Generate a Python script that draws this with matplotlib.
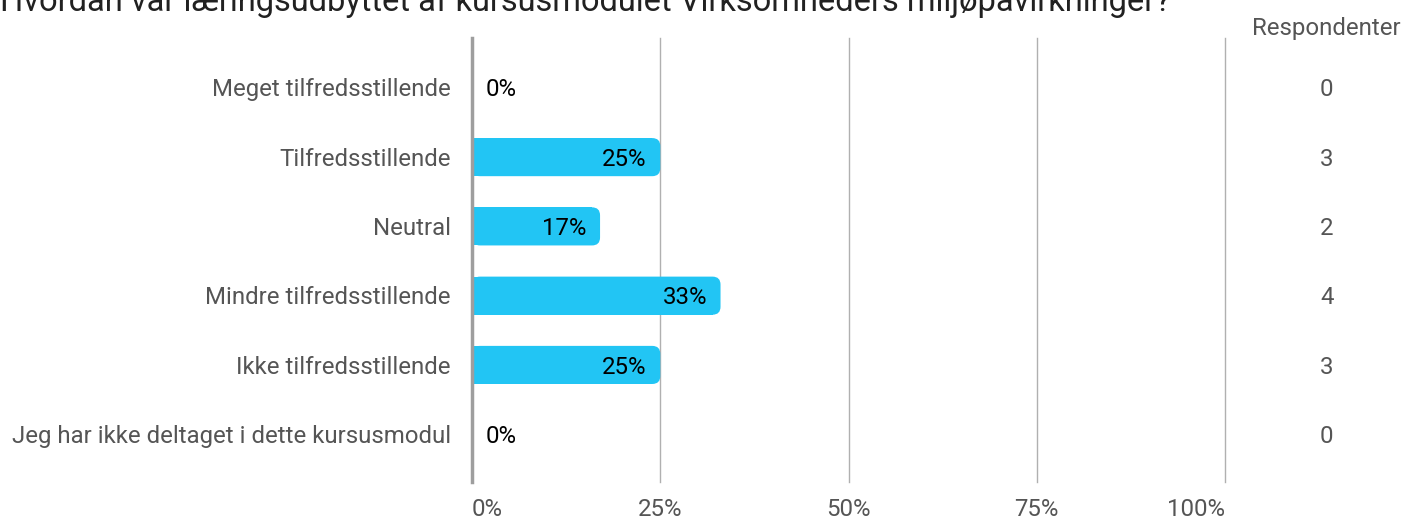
import matplotlib
matplotlib.use("Agg")
import matplotlib.pyplot as plt
from matplotlib.patches import FancyBboxPatch, Rectangle
import matplotlib.transforms as mtransforms

plt.rcParams['font.family'] = ['Roboto', 'DejaVu Sans']

title = "Hvordan var læringsudbyttet af kursusmodulet Virksomheders miljøpåvirkninger?"
categories = ["Meget tilfredsstillende", "Tilfredsstillende", "Neutral",
              "Mindre tilfredsstillende", "Ikke tilfredsstillende",
              "Jeg har ikke deltaget i dette kursusmodul"]
percents = [0, 25, 17, 33, 25, 0]
respondents = [0, 3, 2, 4, 3, 0]
ticks = [0, 25, 50, 75, 100]
tick_labels = ["0%", "25%", "50%", "75%", "100%"]

bar_color = "#22c5f4"
label_gray = "#555555"
fs = 17.3
dy = 0.03  # small nudge so text sits on the bar centre

fig = plt.figure(figsize=(14.18, 5.19), dpi=100)
ax = fig.add_axes([0.3329, 0.0713, 0.531, 0.8555])
ax.set_xlim(0, 100)
ax.set_ylim(5.69, -0.72)
for s in ax.spines.values():
    s.set_visible(False)
ax.set_xticks([])
ax.set_yticks([])

# grid lines
for t in ticks[1:]:
    ax.axvline(t, color="#b0b0b0", lw=1, clip_on=False, zorder=0)
ax.axvline(0, color="#9e9e9e", lw=2.5, clip_on=False, zorder=3)

bar_h = 0.55
px_x = 753 / 100.0   # pixels per x unit
px_y = 69.3          # pixels per y unit
r = 8 / px_x
for i, v in enumerate(percents):
    if v > 0:
        p = FancyBboxPatch((0, i - bar_h / 2), v, bar_h,
                           boxstyle="round,pad=0,rounding_size=%f" % r,
                           mutation_aspect=px_x / px_y,
                           fc=bar_color, ec="none", zorder=2)
        ax.add_patch(p)
        ax.add_patch(Rectangle((0, i - bar_h / 2), v - r, bar_h,
                               fc=bar_color, ec="none", zorder=2))
        ax.text(v - 1.8, i + dy, "%d%%" % v, ha="right", va="center",
                fontsize=fs, color="black", zorder=4)
    else:
        ax.text(1.86, i + dy, "%d%%" % v, ha="left", va="center",
                fontsize=fs, color="black", zorder=4)
    ax.text(-2.8, i + dy, categories[i], ha="right", va="center",
            fontsize=fs, color=label_gray)
    ax.text(113.5, i + dy, str(respondents[i]), ha="center", va="center",
            fontsize=fs, color=label_gray, clip_on=False)

trans = mtransforms.blended_transform_factory(ax.transData, ax.transAxes)
aligns = ["left", "center", "center", "center", "right"]
for t, lab, ha in zip(ticks, tick_labels, aligns):
    ax.text(t, -0.061, lab, ha=ha, va="center", fontsize=fs,
            color=label_gray, transform=trans)

fig.text(1326 / 1418, (519 - 29) / 519, "Respondenter", ha="center",
         va="center", fontsize=fs, color=label_gray)
fig.text(0.0, (519 - 11) / 519, title, ha="left", va="baseline",
         fontsize=23.5, color="#212121")

fig.savefig("out.png", dpi=100)
